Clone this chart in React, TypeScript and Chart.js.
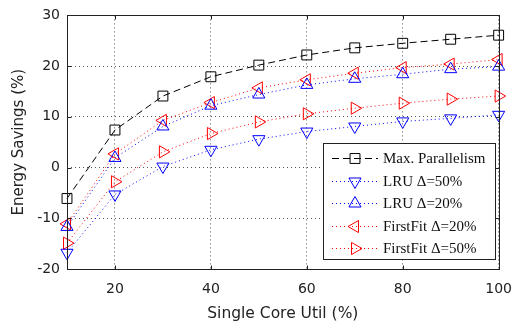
import React, { useEffect, useRef } from 'react';
import { Chart, registerables } from 'chart.js';

Chart.register(...registerables);

const utilization = [10, 20, 30, 40, 50, 60, 70, 80, 90, 100];
const maxParallelism = [-6.1, 7.4, 14.1, 17.9, 20.2, 22.2, 23.6, 24.5, 25.3, 26.1];
const lru50 = [-16.8, -5.3, 0.2, 3.5, 5.6, 7.1, 8.1, 9.1, 9.7, 10.4];
const lru20 = [-11.7, 1.9, 8.1, 12.2, 14.4, 16.3, 17.5, 18.4, 19.4, 19.9];
const firstFit20 = [-11.1, 2.7, 9.3, 12.8, 15.7, 17.3, 18.6, 19.7, 20.4, 21.3];
const firstFit50 = [-14.9, -2.8, 3.1, 6.7, 9.0, 10.6, 11.7, 12.7, 13.5, 14.1];
const xTickValues = [20, 40, 60, 80, 100];
const seriesLabels = ['Max. Parallelism', 'LRU Δ=50%', 'LRU Δ=20%', 'FirstFit Δ=20%', 'FirstFit Δ=50%'];

const BLACK = '#000000';
const BLUE = '#0000ff';
const RED = '#ff0000';

function drawMarker(ctx: CanvasRenderingContext2D, style: string, rot: number, r: number, x: number, y: number, color: string) {
  ctx.save();
  ctx.strokeStyle = color;
  ctx.lineWidth = 1;
  ctx.setLineDash([]);
  ctx.beginPath();
  if (style === 'rect') {
    const s = Math.SQRT1_2 * r;
    ctx.rect(x - s, y - s, 2 * s, 2 * s);
  } else {
    let rad = (rot * Math.PI) / 180;
    for (let i = 0; i < 3; i++) {
      const px = x + Math.sin(rad) * r;
      const py = y - Math.cos(rad) * r;
      if (i === 0) ctx.moveTo(px, py);
      else ctx.lineTo(px, py);
      rad += (2 * Math.PI) / 3;
    }
    ctx.closePath();
  }
  ctx.stroke();
  ctx.restore();
}

const framePlugin = {
  id: 'frame',
  afterDatasetsDraw(chart: any) {
    const { ctx, chartArea } = chart;
    const { left, right, top, bottom } = chartArea;
    ctx.save();
    ctx.strokeStyle = '#222';
    ctx.lineWidth = 1;
    ctx.setLineDash([]);
    const l = Math.round(left) + 0.5;
    const r = Math.round(right) + 0.5;
    const t = Math.round(top) + 0.5;
    const b = Math.round(bottom) + 0.5;
    ctx.strokeRect(l, t, r - l, b - t);
    const tl = 4;
    const xs = chart.scales.x;
    const ys = chart.scales.y;
    ctx.beginPath();
    xs.ticks.forEach((tk: any) => {
      const px = Math.round(xs.getPixelForValue(tk.value)) + 0.5;
      ctx.moveTo(px, b); ctx.lineTo(px, b - tl);
      ctx.moveTo(px, t); ctx.lineTo(px, t + tl);
    });
    ys.ticks.forEach((tk: any) => {
      const py = Math.round(ys.getPixelForValue(tk.value)) + 0.5;
      ctx.moveTo(l, py); ctx.lineTo(l + tl, py);
      ctx.moveTo(r, py); ctx.lineTo(r - tl, py);
    });
    ctx.stroke();
    ctx.restore();
  },
};

const legendPlugin = {
  id: 'boxLegend',
  afterDraw(chart: any) {
    const { ctx } = chart;
    const bx = 323.5, by = 143.5, bw = 172, bh = 116;
    ctx.save();
    ctx.fillStyle = '#ffffff';
    ctx.fillRect(bx, by, bw, bh);
    ctx.strokeStyle = '#222';
    ctx.lineWidth = 1;
    ctx.setLineDash([]);
    ctx.strokeRect(bx, by, bw, bh);
    const rows = [158, 181, 203, 226, 248];
    chart.data.datasets.forEach((ds: any, i: number) => {
      const y = rows[i] + 0.5;
      ctx.save();
      ctx.strokeStyle = ds.borderColor;
      ctx.lineWidth = ds.borderWidth;
      ctx.setLineDash(ds.borderDash || []);
      ctx.beginPath();
      ctx.moveTo(332, y);
      ctx.lineTo(378, y);
      ctx.stroke();
      ctx.restore();
      drawMarker(ctx, ds.pointStyle, ds.pointRotation || 0, ds.pointRadius, 355, y, ds.pointBorderColor);
      ctx.fillStyle = '#111';
      ctx.font = '15px "Liberation Serif"';
      ctx.textBaseline = 'middle';
      ctx.textAlign = 'left';
      ctx.fillText(ds.label, 383, y + 1);
    });
    ctx.restore();
  },
};

function makeDataset(label: string, data: number[], color: string, dash: number[], style: string, rot: number, radius: number) {
  return {
    label,
    data: utilization.map((u, i) => ({ x: u, y: data[i] })),
    borderColor: color,
    borderWidth: 1,
    borderDash: dash,
    pointStyle: style,
    pointRotation: rot,
    pointRadius: radius,
    pointHoverRadius: radius,
    pointBorderColor: color,
    pointBackgroundColor: 'rgba(0,0,0,0)',
    pointBorderWidth: 1,
    fill: false,
    tension: 0,
    clip: false,
  };
}

export default function App() {
  const ref = useRef<HTMLCanvasElement | null>(null);
  useEffect(() => {
    if (!ref.current) return;
    const font = { family: '"DejaVu Sans"', size: 14 };
    const chart = new Chart(ref.current, {
      type: 'line',
      data: {
        datasets: [
          makeDataset(seriesLabels[0], maxParallelism, BLACK, [7, 4], 'rect', 0, 7),
          makeDataset(seriesLabels[1], lru50, BLUE, [1, 3], 'triangle', 180, 7),
          makeDataset(seriesLabels[2], lru20, BLUE, [1, 3], 'triangle', 0, 7),
          makeDataset(seriesLabels[3], firstFit20, RED, [1, 3], 'triangle', -90, 7),
          makeDataset(seriesLabels[4], firstFit50, RED, [1, 3], 'triangle', 90, 7),
        ] as any,
      },
      options: {
        responsive: false,
        animation: false,
        devicePixelRatio: 1,
        layout: { padding: { left: 0, top: 9, right: 17, bottom: 0 } },
        plugins: { legend: { display: false }, tooltip: { enabled: false } },
        scales: {
          x: {
            type: 'linear',
            min: 10,
            max: 100,
            afterBuildTicks: (scale: any) => {
              scale.ticks = xTickValues.map((v) => ({ value: v }));
            },
            afterFit: (scale: any) => {
              scale.height = 59;
            },
            grid: { color: '#555', drawTicks: false, lineWidth: 1 },
            border: { display: false, dash: [1, 3] },
            ticks: { color: '#222', font, padding: 12, maxRotation: 0, autoSkip: false },
            title: { display: true, text: 'Single Core Util (%)', color: '#222', font: { family: '"DejaVu Sans"', size: 15.5 }, padding: { top: 0, bottom: 5 } },
          },
          y: {
            type: 'linear',
            min: -20,
            max: 30,
            ticks: { stepSize: 10, color: '#222', font, padding: 7 },
            afterFit: (scale: any) => {
              scale.width = 67;
            },
            grid: { color: '#555', drawTicks: false, lineWidth: 1 },
            border: { display: false, dash: [1, 3] },
            title: { display: true, text: 'Energy Savings (%)', color: '#222', font: { family: '"DejaVu Sans"', size: 15 }, padding: { top: 10, bottom: 0 } },
          },
        },
      } as any,
      plugins: [framePlugin, legendPlugin],
    });
    return () => chart.destroy();
  }, []);
  return (
    <div style={{ position: 'fixed', left: 0, top: 0, width: 524, height: 328, background: '#fff' }}>
      <canvas ref={ref} width={524} height={328} style={{ display: 'block' }} />
    </div>
  );
}
